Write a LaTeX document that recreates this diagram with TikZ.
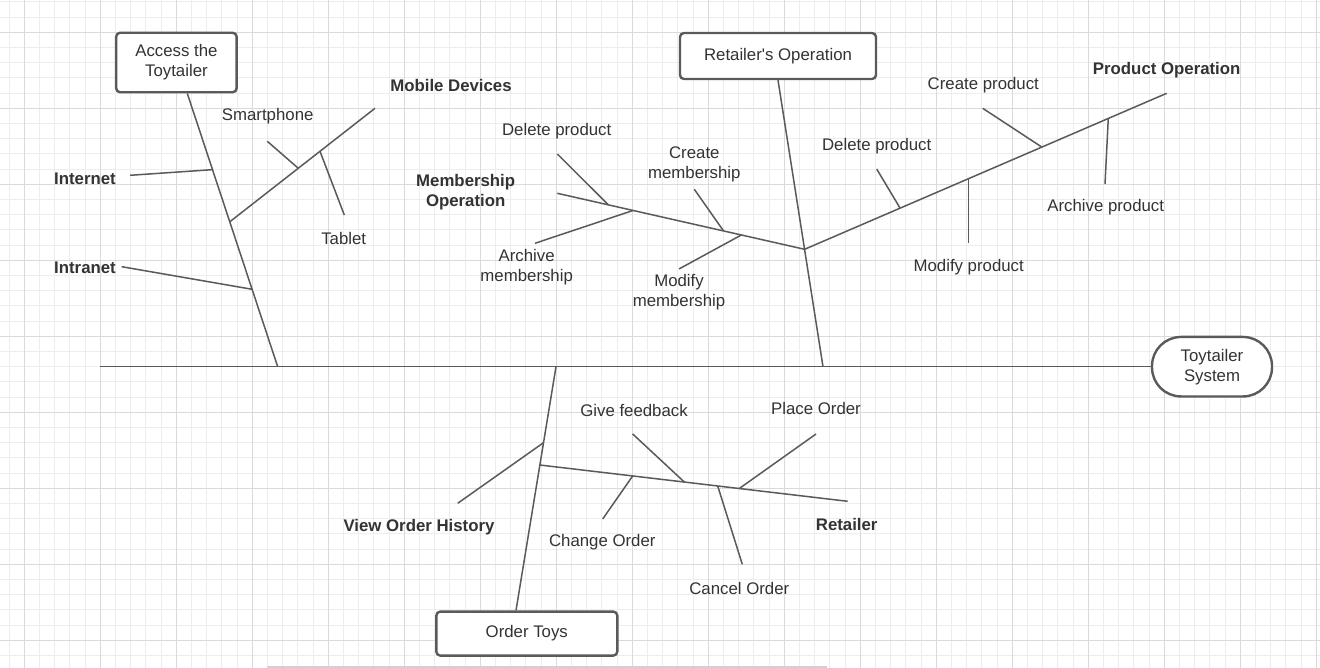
\documentclass[tikz,border=0pt]{standalone}
\usepackage{fontspec}
\setmainfont{Liberation Sans}
\definecolor{gridminor}{HTML}{EDEDED}
\definecolor{gridmajor}{HTML}{DADADA}
\definecolor{bone}{HTML}{5A5A5A}
\definecolor{txt}{HTML}{333333}
\definecolor{bar}{HTML}{CFCFD4}
\tikzset{
  minorline/.style={draw=gridminor, line width=1pt},
  majorline/.style={draw=gridmajor, line width=1pt},
  boneline/.style={draw=bone, line width=1.5pt},
  box/.style={draw=bone, line width=2.4pt, rounded corners=4pt, fill=white, text=txt, align=center, inner sep=0pt, font=\fontsize{16.8}{20}\selectfont},
  stadium/.style={box, rounded corners=29pt},
  lbl/.style={text=txt, align=center, inner sep=0pt, yshift=-1.5pt, font=\fontsize{16.8}{20}\selectfont},
  blbl/.style={lbl, font=\fontsize{16.8}{20}\selectfont\bfseries}
}
\begin{document}
\begin{tikzpicture}[x=1pt,y=-1pt]
\useasboundingbox (0,0) rectangle (1320,668);
\fill[white] (0,0) rectangle (1320,668);
% grid
\foreach \i in {0,...,86} { \draw[minorline] ({9.1+15.2*\i},0) -- ({9.1+15.2*\i},668); }
\foreach \i in {0,...,43} { \draw[minorline] (0,{1.9+15.2*\i}) -- (1320,{1.9+15.2*\i}); }
\foreach \i in {0,...,17} { \draw[majorline] ({24.3+76*\i},0) -- ({24.3+76*\i},668); }
\foreach \i in {0,...,8} { \draw[majorline] (0,{32.3+76*\i}) -- (1320,{32.3+76*\i}); }
% bottom bar
\draw[draw=bar, line width=2pt] (267,667) -- (827,667);

% boxes
\node[box, minimum width=120.5pt, minimum height=59.5pt] (access) at (176.4,62.5) {Access the\\Toytailer};
\node[box, minimum width=196pt, minimum height=46pt] (retop) at (778,56) {Retailer\textquotesingle s Operation};
\node[box, minimum width=181pt, minimum height=44pt] (order) at (526.8,633.6) {Order Toys};
\node[stadium, minimum width=120pt, minimum height=59.5pt] (system) at (1212,366.7) {Toytailer\\System};

% spine
\coordinate (spL) at (100,366.7);
\draw[boneline] (spL) -- (system.west);

% ---- Access the Toytailer
\coordinate (accTop) at ([xshift=10.9pt]access.south);
\coordinate (accBot) at (277.7,366.7);
\draw[boneline] (accTop) -- (accBot);
\node[blbl] (internet) at (85,177) {Internet};
\node[blbl] (intranet) at (85,266) {Intranet};
\node[blbl] (mobile) at (451,84) {Mobile Devices};
\node[lbl] (smart) at (267.7,115) {Smartphone};
\node[lbl] (tablet) at (343.7,236.7) {Tablet};
\coordinate (inetE) at (130,175.3);   \coordinate (inetJ) at (211.9,169.7);
\coordinate (intrE) at (121.7,266.7); \coordinate (intrJ) at (252.2,289.3);
\coordinate (mobJ) at (229.9,221.7);  \coordinate (mobE) at (375,108.3);
\coordinate (smE) at (267.3,141.3);   \coordinate (smJ) at (298.3,168.3);
\coordinate (tbJ) at (320,151.3);     \coordinate (tbE) at (344.3,215);
\draw[boneline] (inetE) -- (inetJ);
\draw[boneline] (intrE) -- (intrJ);
\draw[boneline] (mobJ) -- (mobE);
\draw[boneline] (smE) -- (smJ);
\draw[boneline] (tbJ) -- (tbE);

% ---- Retailer's Operation
\coordinate (retTop) at (retop.south);
\coordinate (retBot) at (823,366.7);
\draw[boneline] (retTop) -- (retBot);
\coordinate (retJ) at (804.6,249.3);
\node[blbl] (prodop) at (1166.7,69) {Product Operation};
\node[lbl] (createp) at (983.3,84) {Create product};
\node[lbl] (deletepr) at (876.7,145) {Delete product};
\node[lbl] (archivep) at (1105.7,205.7) {Archive product};
\node[lbl] (modifyp) at (968.7,265.7) {Modify product};
\coordinate (prodE) at (1166.7,93.3);
\coordinate (cpE) at (982.7,108.3);  \coordinate (cpJ) at (1041.7,147);
\coordinate (apJ) at (1108.3,118.2); \coordinate (apE) at (1105,184);
\coordinate (dpE) at (876.7,169);    \coordinate (dpJ) at (900,208);
\coordinate (mpJ) at (968.3,178.5);  \coordinate (mpE) at (968.3,243.3);
\draw[boneline] (retJ) -- (prodE);
\draw[boneline] (cpE) -- (cpJ);
\draw[boneline] (apJ) -- (apE);
\draw[boneline] (dpE) -- (dpJ);
\draw[boneline] (mpJ) -- (mpE);

\node[blbl] (memop) at (465.7,191) {Membership\\Operation};
\node[lbl] (deletepl) at (556.7,130) {Delete product};
\node[lbl] (createm) at (694.3,163.3) {Create\\membership};
\node[lbl] (archivem) at (526.7,266) {Archive\\membership};
\node[lbl] (modifym) at (679,291) {Modify\\membership};
\coordinate (memE) at (557.3,193.3);
\coordinate (dlE) at (557.3,154);    \coordinate (dlJ) at (608.3,204.8);
\coordinate (amE) at (535,243.3);    \coordinate (amJ) at (633.3,210.4);
\coordinate (cmE) at (694.3,189.3);  \coordinate (cmJ) at (723.3,230.6);
\coordinate (mmE) at (679,269);      \coordinate (mmJ) at (741.7,234.8);
\draw[boneline] (memE) -- (retJ);
\draw[boneline] (dlE) -- (dlJ);
\draw[boneline] (amE) -- (amJ);
\draw[boneline] (cmE) -- (cmJ);
\draw[boneline] (mmE) -- (mmJ);

% ---- Order Toys
\coordinate (ordTop) at (556,366.7);
\coordinate (ordBot) at ([xshift=-10.8pt]order.north);
\draw[boneline] (ordTop) -- (ordBot);
\node[blbl] (history) at (419,526) {View Order History};
\node[blbl] (retailer) at (846.7,523.3) {Retailer};
\node[lbl] (feedback) at (634,409.3) {Give feedback};
\node[lbl] (place) at (816,406.7) {Place Order};
\node[lbl] (change) at (602.3,541) {Change Order};
\node[lbl] (cancel) at (739.3,586.7) {Cancel Order};
\coordinate (hE) at (457.7,503.3);   \coordinate (hJ) at (543.5,442.7);
\coordinate (rJ) at (539.8,465);     \coordinate (rE) at (847.7,501.3);
\coordinate (gfE) at (632.7,434);    \coordinate (gfJ) at (684.3,482);
\coordinate (poE) at (816,434);      \coordinate (poJ) at (739.3,488.5);
\coordinate (coE) at (602.7,519);    \coordinate (coJ) at (632.7,475.9);
\coordinate (caJ) at (717.7,486);    \coordinate (caE) at (742.3,564.3);
\draw[boneline] (hE) -- (hJ);
\draw[boneline] (rJ) -- (rE);
\draw[boneline] (gfE) -- (gfJ);
\draw[boneline] (poE) -- (poJ);
\draw[boneline] (coE) -- (coJ);
\draw[boneline] (caJ) -- (caE);
\end{tikzpicture}
\end{document}
